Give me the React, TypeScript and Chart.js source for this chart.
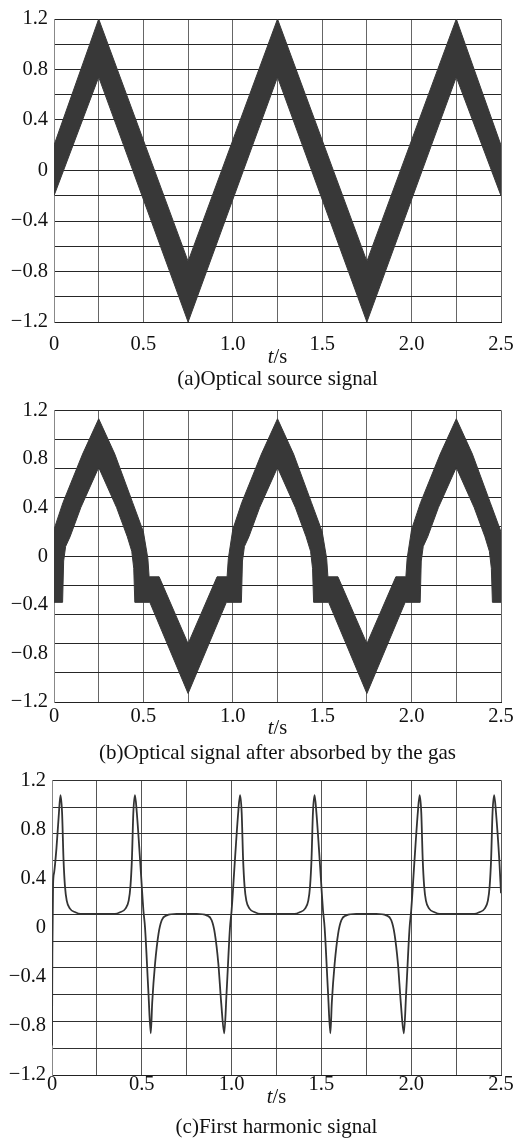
import { useEffect, useRef } from "react";
import { Chart, registerables } from "chart.js";

Chart.register(...registerables);

const SERIF = '"Liberation Serif", "DejaVu Serif", serif';
const BAND = "#383838";
const TICK_SIZE = 20.5;
const CAP_SIZE = 21;

// ---- axes ----
const xGridTicks = [0, 0.25, 0.5, 0.75, 1, 1.25, 1.5, 1.75, 2, 2.25, 2.5];
const xLabelTicks = [0, 0.5, 1, 1.5, 2, 2.5];
const xLabelText = ["0", "0.5", "1.0", "1.5", "2.0", "2.5"];
const yLabelTicks = [-1.2, -0.8, -0.4, 0, 0.4, 0.8, 1.2];
const yLabelText = ["\u22121.2", "\u22120.8", "\u22120.4", "0", "0.4", "0.8", "1.2"];
const yGridA = [-1.2, -1.0, -0.8, -0.6, -0.4, -0.2, 0, 0.2, 0.4, 0.6, 0.8, 1.0, 1.2];
const yGridB = [-1.2, -0.96, -0.72, -0.48, -0.24, 0, 0.24, 0.48, 0.72, 0.96, 1.2];
const yGridC = [-1.2, -0.982, -0.764, -0.545, -0.327, -0.109, 0.109, 0.327, 0.545, 0.764, 0.982, 1.2];

// ---- (a) optical source signal: band envelope ----
const bandUpperA: [number, number][] = [
  [0, 0.2], [0.25, 1.2], [0.75, -0.72], [1.25, 1.2], [1.75, -0.72], [2.25, 1.2], [2.5, 0.2],
];
const bandLowerA: [number, number][] = [
  [0, -0.2], [0.25, 0.74], [0.75, -1.2], [1.25, 0.74], [1.75, -1.2], [2.25, 0.74], [2.5, -0.2],
];

// ---- (b) optical signal after absorption: band envelope ----
const bandUpperB: [number, number][] = [
  [0.0, 0.22], [0.05, 0.44], [0.16, 0.84], [0.25, 1.13], [0.34, 0.84], [0.44, 0.44], [0.5, 0.2],
  [0.525, -0.02], [0.532, -0.17], [0.588, -0.17], [0.75, -0.72], [0.912, -0.17], [0.968, -0.17], [0.975, -0.02],
  [1.0, 0.22], [1.05, 0.44], [1.16, 0.84], [1.25, 1.13], [1.34, 0.84], [1.44, 0.44], [1.5, 0.2],
  [1.525, -0.02], [1.532, -0.17], [1.588, -0.17], [1.75, -0.72], [1.912, -0.17], [1.968, -0.17], [1.975, -0.02],
  [2.0, 0.22], [2.05, 0.44], [2.16, 0.84], [2.25, 1.13], [2.34, 0.84], [2.44, 0.44], [2.5, 0.2],
];
const bandLowerB: [number, number][] = [
  [0.0, -0.38], [0.048, -0.38], [0.054, -0.04], [0.065, 0.08], [0.09, 0.16], [0.15, 0.4], [0.25, 0.73],
  [0.35, 0.4], [0.41, 0.16], [0.435, 0.04], [0.446, -0.1], [0.452, -0.38], [0.536, -0.38], [0.75, -1.13], [0.964, -0.38],
  [1.048, -0.38], [1.054, -0.04], [1.065, 0.08], [1.09, 0.16], [1.15, 0.4], [1.25, 0.73],
  [1.35, 0.4], [1.41, 0.16], [1.435, 0.04], [1.446, -0.1], [1.452, -0.38], [1.536, -0.38], [1.75, -1.13], [1.964, -0.38],
  [2.048, -0.38], [2.054, -0.04], [2.065, 0.08], [2.09, 0.16], [2.15, 0.4], [2.25, 0.73],
  [2.35, 0.4], [2.41, 0.16], [2.435, 0.04], [2.446, -0.1], [2.452, -0.38], [2.5, -0.38],
];

// ---- (c) first harmonic signal ----
const harmonic: [number, number][] = [
  [0, -0.96], [0.002, -0.2], [0.006, 0.35], [0.012, 0.45], [0.025, 0.65], [0.037, 0.9], [0.047, 1.08],
  [0.056, 0.94], [0.064, 0.56], [0.072, 0.34], [0.082, 0.22], [0.1, 0.155], [0.13, 0.125], [0.16, 0.112],
  [0.35, 0.112], [0.379, 0.125], [0.409, 0.155], [0.427, 0.22], [0.437, 0.34], [0.445, 0.56], [0.453, 0.94],
  [0.462, 1.08], [0.472, 0.94], [0.491, 0.54], [0.509, 0.14], [0.518, 0.0], [0.537, -0.53], [0.55, -0.86],
  [0.558, -0.61], [0.574, -0.29], [0.593, -0.05], [0.611, 0.06], [0.639, 0.1], [0.694, 0.112],
  [0.806, 0.112], [0.861, 0.1], [0.889, 0.06], [0.907, -0.05], [0.926, -0.29], [0.942, -0.61], [0.959, -0.86],
  [0.972, -0.53], [0.991, 0.0],
  [1.0, 0.14], [1.018, 0.54], [1.037, 0.94], [1.047, 1.08], [1.056, 0.94], [1.064, 0.56], [1.072, 0.34],
  [1.082, 0.22], [1.1, 0.155], [1.13, 0.125], [1.16, 0.112], [1.35, 0.112], [1.379, 0.125], [1.409, 0.155],
  [1.427, 0.22], [1.437, 0.34], [1.445, 0.56], [1.453, 0.94], [1.462, 1.08], [1.472, 0.94], [1.491, 0.54],
  [1.509, 0.14], [1.518, 0.0], [1.537, -0.53], [1.55, -0.86], [1.558, -0.61], [1.574, -0.29], [1.593, -0.05],
  [1.611, 0.06], [1.639, 0.1], [1.694, 0.112], [1.806, 0.112], [1.861, 0.1], [1.889, 0.06], [1.907, -0.05],
  [1.926, -0.29], [1.942, -0.61], [1.959, -0.86], [1.972, -0.53], [1.991, 0.0],
  [2.0, 0.14], [2.018, 0.54], [2.037, 0.94], [2.047, 1.08], [2.056, 0.94], [2.064, 0.56], [2.072, 0.34],
  [2.082, 0.22], [2.1, 0.155], [2.13, 0.125], [2.16, 0.112], [2.35, 0.112], [2.379, 0.125], [2.409, 0.155],
  [2.427, 0.22], [2.437, 0.34], [2.445, 0.56], [2.453, 0.94], [2.462, 1.08], [2.472, 0.94], [2.491, 0.54],
  [2.5, 0.28],
];

const captions = [
  "(a)Optical source signal",
  "(b)Optical signal after absorbed by the gas",
  "(c)First harmonic signal",
];

const toXY = (pts: [number, number][]) => pts.map(([x, y]) => ({ x, y }));
const near = (a: number, b: number) => Math.abs(a - b) < 1e-6;

type Panel = {
  top: number;
  height: number;
  padTop: number;
  plotLeft: number;
  plotRight: number;
  plotBottom: number;
  yGrid: number[];
  hColor: string;
  vColor: string;
  xPad: number;
  tsOff: number;
  capOff: number;
  caption: string;
  datasets: any[];
};

const bandSets = (lower: [number, number][], upper: [number, number][]) => [
  {
    data: toXY(lower),
    borderColor: BAND,
    backgroundColor: BAND,
    borderWidth: 1,
    pointRadius: 0,
    fill: false,
  },
  {
    data: toXY(upper),
    borderColor: BAND,
    backgroundColor: BAND,
    borderWidth: 1,
    pointRadius: 0,
    fill: "-1",
  },
];

const panels: Panel[] = [
  {
    top: 0, height: 392, padTop: 19, plotLeft: 54, plotRight: 501, plotBottom: 322,
    yGrid: yGridA, hColor: "#262626", vColor: "#666666", xPad: 10, tsOff: 41, capOff: 63,
    caption: captions[0], datasets: bandSets(bandLowerA, bandUpperA),
  },
  {
    top: 392, height: 380, padTop: 6, plotLeft: 54, plotRight: 501, plotBottom: 310,
    yGrid: yGridB, hColor: "#262626", vColor: "#666666", xPad: 2, tsOff: 32, capOff: 57,
    caption: captions[1], datasets: bandSets(bandLowerB, bandUpperB),
  },
  {
    top: 762, height: 376, padTop: 14, plotLeft: 52, plotRight: 501, plotBottom: 313,
    yGrid: yGridC, hColor: "#303030", vColor: "#555555", xPad: -3, tsOff: 28, capOff: 58,
    caption: captions[2],
    datasets: [
      {
        data: toXY(harmonic),
        borderColor: "#333333",
        borderWidth: 1.8,
        pointRadius: 0,
        fill: false,
        cubicInterpolationMode: "monotone",
      },
    ],
  },
];

const captionPlugin = {
  id: "captions",
  afterDraw(chart: any, _args: any, opts: any) {
    const { ctx, chartArea } = chart;
    const cx = (chartArea.left + chartArea.right) / 2;
    ctx.save();
    ctx.fillStyle = "#111";
    ctx.textBaseline = "alphabetic";
    ctx.font = `italic ${TICK_SIZE}px ${SERIF}`;
    const wt = ctx.measureText("t").width;
    ctx.font = `${TICK_SIZE}px ${SERIF}`;
    const ws = ctx.measureText("/s").width;
    const start = cx - (wt + ws) / 2;
    ctx.textAlign = "left";
    ctx.font = `italic ${TICK_SIZE}px ${SERIF}`;
    ctx.fillText("t", start, chartArea.bottom + opts.tsOff);
    ctx.font = `${TICK_SIZE}px ${SERIF}`;
    ctx.fillText("/s", start + wt, chartArea.bottom + opts.tsOff);
    ctx.textAlign = "center";
    ctx.font = `${CAP_SIZE}px ${SERIF}`;
    ctx.fillText(opts.caption, cx, chartArea.bottom + opts.capOff);
    ctx.restore();
  },
};

function makeChart(canvas: HTMLCanvasElement, p: Panel) {
  const yTicks: number[] = [];
  [...p.yGrid, ...yLabelTicks].forEach((v) => {
    if (!yTicks.some((t) => near(t, v))) yTicks.push(v);
  });
  yTicks.sort((a, b) => a - b);
  const font = { family: SERIF, size: TICK_SIZE };
  return new Chart(canvas, {
    type: "line",
    data: { datasets: p.datasets },
    plugins: [captionPlugin],
    options: {
      responsive: false,
      animation: false,
      layout: { padding: { top: p.padTop, left: 0, right: 529 - p.plotRight, bottom: 0 } },
      plugins: {
        legend: { display: false },
        tooltip: { enabled: false },
        captions: { tsOff: p.tsOff, capOff: p.capOff, caption: p.caption },
      } as any,
      scales: {
        x: {
          type: "linear",
          min: 0,
          max: 2.5,
          afterBuildTicks: (s: any) => {
            s.ticks = xGridTicks.map((v) => ({ value: v }));
          },
          afterFit: (s: any) => {
            s.height = p.height - p.plotBottom;
          },
          ticks: {
            autoSkip: false,
            maxRotation: 0,
            padding: p.xPad,
            color: "#111",
            font,
            callback: (v: any) => {
              const i = xLabelTicks.findIndex((t) => near(t, Number(v)));
              return i >= 0 ? xLabelText[i] : "";
            },
          },
          grid: { color: p.vColor, lineWidth: 1, drawTicks: false },
          border: { display: true, color: "#222", width: 1 },
        },
        y: {
          type: "linear",
          min: -1.2,
          max: 1.2,
          afterBuildTicks: (s: any) => {
            s.ticks = yTicks.map((v) => ({ value: v }));
          },
          afterFit: (s: any) => {
            s.width = p.plotLeft;
          },
          ticks: {
            autoSkip: false,
            padding: 6,
            color: "#111",
            font,
            callback: (v: any) => {
              const i = yLabelTicks.findIndex((t) => near(t, Number(v)));
              return i >= 0 ? yLabelText[i] : "";
            },
          },
          grid: {
            drawTicks: false,
            lineWidth: 1,
            color: (ctx: any) =>
              ctx.tick && p.yGrid.some((g) => near(g, ctx.tick.value)) ? p.hColor : "rgba(0,0,0,0)",
          },
          border: { display: true, color: "#888", width: 1 },
        },
      },
    } as any,
  });
}

export default function App() {
  const refs = useRef<(HTMLCanvasElement | null)[]>([]);
  useEffect(() => {
    const charts = panels.map((p, i) => makeChart(refs.current[i] as HTMLCanvasElement, p));
    return () => charts.forEach((c) => c.destroy());
  }, []);
  return (
    <div style={{ position: "absolute", left: 0, top: 0, width: 529, height: 1138, background: "#fff" }}>
      {panels.map((p, i) => (
        <canvas
          key={i}
          ref={(el) => {
            refs.current[i] = el;
          }}
          width={529}
          height={p.height}
          style={{ position: "absolute", left: 0, top: p.top, width: 529, height: p.height, display: "block" }}
        />
      ))}
    </div>
  );
}
